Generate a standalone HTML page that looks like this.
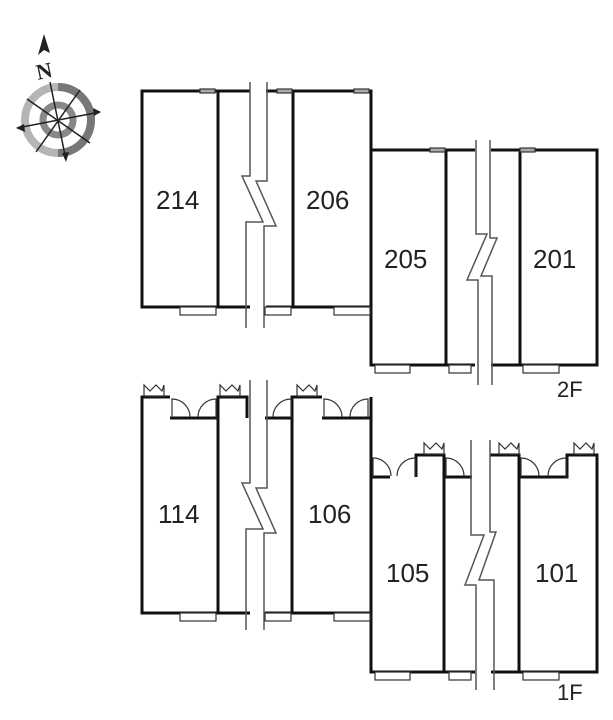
<!DOCTYPE html>
<html><head><meta charset="utf-8"><style>
html,body{margin:0;padding:0;background:#fff}
svg{display:block}
text{font-family:"Liberation Sans",sans-serif;font-size:26px;fill:#222}
</style></head><body>
<svg width="613" height="720" viewBox="0 0 613 720" xmlns="http://www.w3.org/2000/svg">
<!-- compass -->
<g>
<circle cx="58" cy="120" r="33" fill="none" stroke="#b5b5b5" stroke-width="8"/>
<path d="M58 87 A33 33 0 0 1 91 120 A33 33 0 0 1 58 153" fill="none" stroke="#777" stroke-width="8"/>
<circle cx="58" cy="120" r="15" fill="none" stroke="#888" stroke-width="7"/>
<g stroke="#222" stroke-width="1.5">
<line x1="50" y1="82" x2="66" y2="160"/>
<line x1="17" y1="128" x2="100" y2="112"/>
<line x1="27" y1="99" x2="90" y2="143"/>
<line x1="80" y1="90" x2="36" y2="152"/>
</g>
<polygon points="66,162 62,153 69,152" fill="#222"/>
<polygon points="101,112 93,108 94,116" fill="#222"/>
<polygon points="16,128 24,124 25,132" fill="#222"/>
<polygon points="44,34 38,55 44,50 50,53" fill="#222"/>
<text x="36" y="78" style="font-family:'Liberation Serif',serif;font-size:22px;font-weight:bold" transform="rotate(-12 46 70)">N</text>
</g>

<g fill="none" stroke="#111" stroke-width="3">
<!-- 2F left -->
<path d="M250 91 H142 V307 H250"/>
<path d="M266 91 H371 V307 H266"/>
<line x1="218" y1="91" x2="218" y2="307"/>
<line x1="293" y1="91" x2="293" y2="307"/>
<!-- 2F right -->
<path d="M475 150 H371 V365 H475"/>
<path d="M491 150 H597 V365 H491"/>
<line x1="446" y1="150" x2="446" y2="365"/>
<line x1="520" y1="150" x2="520" y2="365"/>
<!-- 1F left -->
<path d="M247 418 V397 H218 V613 H142 V397 H170"/>
<line x1="170" y1="418" x2="218" y2="418"/>
<line x1="142" y1="613" x2="250" y2="613"/>
<path d="M265 418 H292 V397 H322"/>
<line x1="322" y1="418" x2="371" y2="418"/>
<line x1="371" y1="397" x2="371" y2="613"/>
<line x1="292" y1="418" x2="292" y2="613"/>
<line x1="265" y1="613" x2="371" y2="613"/>
<!-- 1F right -->
<path d="M371 477 V672 H475"/>
<line x1="371" y1="477" x2="390" y2="477"/>
<path d="M416 477 V455 H444 V672"/>
<line x1="444" y1="477" x2="472" y2="477"/>
<path d="M491 672 H597 V455 H567 V477 H519"/>
<path d="M490 455 H519 V672"/>
</g>
<g fill="none" stroke="#555" stroke-width="1.5">
<!-- break lines -->
<path d="M250 82 V176 H242 L263 222 H246 V328"/>
<path d="M267 82 V181 H256 L276 226 H264 V328"/>
<path d="M250 380 V483 H242 L263 529 H246 V630"/>
<path d="M267 380 V488 H256 L276 533 H264 V630"/>
<path d="M476 140 V234 H487 L467 280 H478 V385"/>
<path d="M490 140 V238 H497 L481 276 H492 V385"/>
<path d="M471 440 V535 H484 L465 585 H476 V690"/>
<path d="M490 440 V532 H496 L479 580 H494 V690"/>
</g>
<!-- balconies / windows -->
<g fill="#fff" stroke="#333" stroke-width="1.2">
<rect x="180" y="307" width="36" height="8"/>
<rect x="265" y="307" width="26" height="8"/>
<rect x="334" y="307" width="36" height="8"/>
<rect x="375" y="365" width="35" height="8"/>
<rect x="449" y="365" width="22" height="8"/>
<rect x="523" y="365" width="36" height="8"/>
<rect x="180" y="613" width="36" height="8"/>
<rect x="265" y="613" width="26" height="8"/>
<rect x="334" y="613" width="36" height="8"/>
<rect x="375" y="672" width="35" height="8"/>
<rect x="449" y="672" width="22" height="8"/>
<rect x="523" y="672" width="36" height="8"/>
<rect x="200" y="89" width="15" height="4" fill="#aaa"/>
<rect x="277" y="89" width="15" height="4" fill="#aaa"/>
<rect x="354" y="89" width="15" height="4" fill="#aaa"/>
<rect x="430" y="148" width="15" height="4" fill="#aaa"/>
<rect x="520" y="148" width="15" height="4" fill="#aaa"/>
</g>
<!-- door arcs -->
<g fill="none" stroke="#333" stroke-width="1.2">
<path d="M172 418 V399 A18 18 0 0 1 190 417"/>
<path d="M216 418 V399 A18 18 0 0 0 198 417"/>
<path d="M291 418 V399 A18 18 0 0 0 273 417"/>
<path d="M324 418 V399 A18 18 0 0 1 342 417"/>
<path d="M368 418 V399 A18 18 0 0 0 350 417"/>
<path d="M373 477 V458 A18 18 0 0 1 391 476"/>
<path d="M415 477 V458 A18 18 0 0 0 397 476"/>
<path d="M446 477 V458 A18 18 0 0 1 464 476"/>
<path d="M521 477 V458 A18 18 0 0 1 539 476"/>
<path d="M566 477 V458 A18 18 0 0 0 548 476"/>
</g>
<!-- meter icons -->
<g fill="none" stroke="#333" stroke-width="1.2">
<path d="M144 396 V385 L150 391 L156 385 L162 391 L164 385 V396 Z"/>
<path d="M220 396 V385 L226 391 L232 385 L238 391 L240 385 V396 Z"/>
<path d="M297 396 V385 L303 391 L309 385 L315 391 L317 385 V396 Z"/>
<path d="M424 454 V443 L430 449 L436 443 L442 449 L444 443 V454 Z"/>
<path d="M499 454 V443 L505 449 L511 443 L517 449 L519 443 V454 Z"/>
<path d="M574 454 V443 L580 449 L586 443 L592 449 L594 443 V454 Z"/>
</g>
<text x="156" y="209">214</text>
<text x="306" y="209">206</text>
<text x="384" y="268">205</text>
<text x="533" y="268">201</text>
<text x="158" y="523">114</text>
<text x="308" y="523">106</text>
<text x="386" y="582">105</text>
<text x="535" y="582">101</text>
<text x="557" y="397" style="font-size:22px">2F</text>
<text x="557" y="700" style="font-size:22px">1F</text>
</svg>
</body></html>
